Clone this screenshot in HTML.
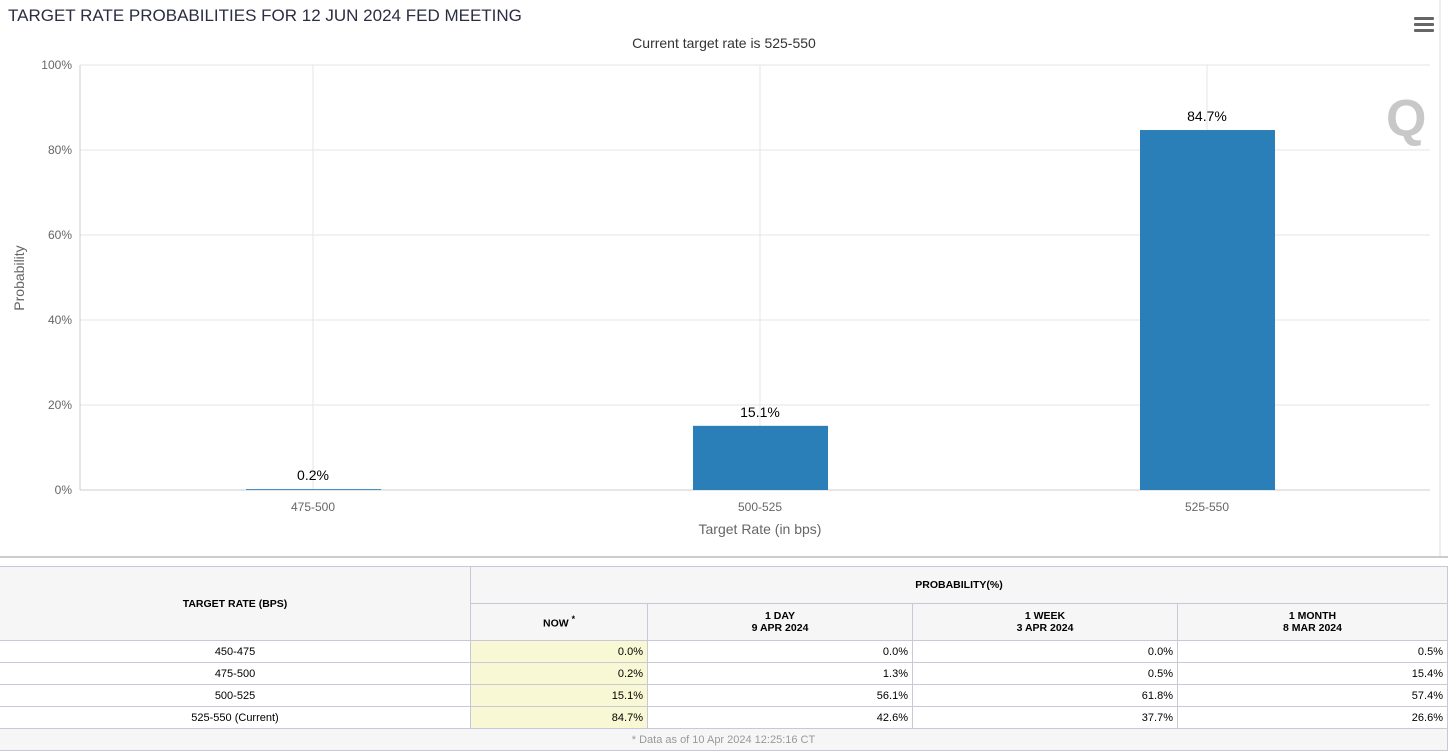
<!DOCTYPE html>
<html><head><meta charset="utf-8">
<style>
body{margin:0;width:1448px;height:753px;background:#fff;font-family:"Liberation Sans",sans-serif;overflow:hidden;position:relative}
#title{position:absolute;left:8px;top:6px;font-size:17px;color:#2b2d42;letter-spacing:0px}
#menu{position:absolute;left:1414px;top:17px;width:20px}
#menu div{height:3px;background:#666;margin-bottom:3px;border-radius:1px}
table{position:absolute;left:-1px;top:566px;width:1449px;border-collapse:collapse;font-size:11px;color:#000}
td,th{border:1px solid #c8c8d6;padding:0 4px}
th{background:#f6f6f6;font-weight:bold;font-size:10.5px}
td{text-align:right;height:21px}
td.c{text-align:center}
td.now{background:#f8f8d4}
td.foot{background:#f6f6f6;text-align:center;color:#999;height:21px}
</style></head><body>
<div id="title">TARGET RATE PROBABILITIES FOR 12 JUN 2024 FED MEETING</div>
<div id="menu"><div></div><div></div><div></div></div>
<svg id="chart" width="1448" height="560" style="position:absolute;left:0;top:0"></svg>
<div style="position:absolute;left:0;top:556px;width:1448px;height:2px;background:#ccc"></div>
<table>
<tr style="height:37px"><th rowspan="2" style="width:462px">TARGET RATE (BPS)</th><th colspan="4">PROBABILITY(%)</th></tr>
<tr style="height:37px"><th style="width:168px">NOW <sup>*</sup></th><th style="width:256px">1 DAY<br>9 APR 2024</th><th style="width:256px">1 WEEK<br>3 APR 2024</th><th>1 MONTH<br>8 MAR 2024</th></tr>
<tr><td class="c">450-475</td><td class="now">0.0%</td><td>0.0%</td><td>0.0%</td><td>0.5%</td></tr>
<tr><td class="c">475-500</td><td class="now">0.2%</td><td>1.3%</td><td>0.5%</td><td>15.4%</td></tr>
<tr><td class="c">500-525</td><td class="now">15.1%</td><td>56.1%</td><td>61.8%</td><td>57.4%</td></tr>
<tr><td class="c">525-550 (Current)</td><td class="now">84.7%</td><td>42.6%</td><td>37.7%</td><td>26.6%</td></tr>
<tr><td colspan="5" class="foot">* Data as of 10 Apr 2024 12:25:16 CT</td></tr>
</table>
<script>
const categories=["475-500","500-525","525-550"];
const values=[0.2,15.1,84.7];
const yTicks=[0,20,40,60,80,100];
const NS="http://www.w3.org/2000/svg";
const svg=document.getElementById('chart');
const L=80,R=1430,T=65,B=490;
const CL=89.5,CR=1430.5;
const bw=(CR-CL)/categories.length;
const x=i=>CL+bw*(i+0.5);
const y=v=>B-(v/100)*(B-T);
function mk(t,a,txt){const e=document.createElementNS(NS,t);for(const k in a)e.setAttribute(k,a[k]);if(txt!=null)e.textContent=txt;svg.appendChild(e);return e;}
yTicks.forEach(t=>{
 const g=mk('line',{x1:L,x2:R,y1:y(t),y2:y(t),stroke:t===0?'#ccc':'#e6e6e6','stroke-width':1});
 
 
 const l=mk('text',{x:L-8,y:y(t)+4,'text-anchor':'end','font-size':12,fill:'#666','font-family':'Liberation Sans'},t+'%');
 
 
});
categories.forEach((c,i)=>{
 const g=mk('line',{x1:x(i),x2:x(i),y1:T,y2:B,stroke:'#e6e6e6'});
 
 
 const l=mk('text',{x:x(i),y:B+21,'text-anchor':'middle','font-size':12,fill:'#666','font-family':'Liberation Sans'},c);
 
 
 const b=mk('rect',{x:x(i)-67,y:y(values[i]),width:135,height:B-y(values[i]),fill:'#2a7fb8'});
 
 
 const v=mk('text',{x:x(i),y:y(values[i])-9,'text-anchor':'middle','font-size':14,fill:'#000','font-family':'Liberation Sans'},values[i]+'%');
 
 
});
const ax=mk('line',{x1:L,x2:L,y1:T,y2:B,stroke:'#ccc'});


const bd=mk('line',{x1:1440,x2:1440,y1:0,y2:557,stroke:'#ddd'});


const st=mk('text',{x:724,y:48,'text-anchor':'middle','font-size':14,fill:'#333','font-family':'Liberation Sans'},'Current target rate is 525-550');


const xt=mk('text',{x:760,y:534,'text-anchor':'middle','font-size':14,fill:'#666','font-family':'Liberation Sans'},'Target Rate (in bps)');


const yt=mk('text',{x:24,y:278,'text-anchor':'middle','font-size':14,fill:'#666','font-family':'Liberation Sans',transform:'rotate(-90 24 278)'},'Probability');


const q=mk('text',{x:1386,y:136,'font-size':52,'font-weight':'bold',fill:'#c8c8c8','font-family':'Liberation Sans'},'Q');


</script>
</body></html>
